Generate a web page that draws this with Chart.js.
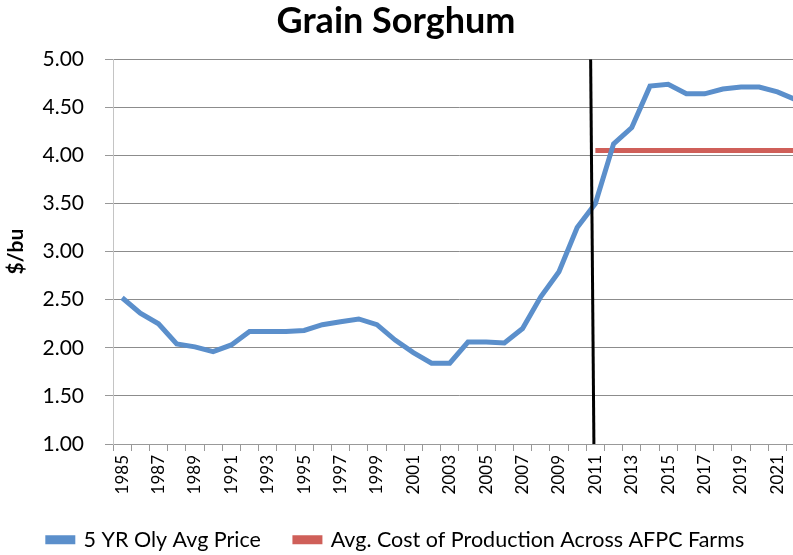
<!DOCTYPE html>
<html><head><meta charset="utf-8">
<script src="https://cdn.jsdelivr.net/npm/chart.js@4"></script>
<style>html,body{margin:0;padding:0;overflow:hidden;background:#fff;width:793px;height:555px}#wrap{width:848px;height:555px;position:absolute;left:-28px;top:0}</style>
</head><body><div id="wrap"><canvas id="c"></canvas></div>
<script>
const years = ['1985','1986','1987','1988','1989','1990','1991','1992','1993','1994','1995','1996','1997','1998','1999','2000','2001','2002','2003','2004','2005','2006','2007','2008','2009','2010','2011','2012','2013','2014','2015','2016','2017','2018','2019','2020','2021','2022'];
const priceValues = [2.52,2.36,2.25,2.04,2.01,1.96,2.03,2.17,2.17,2.17,2.18,2.24,2.27,2.30,2.24,2.08,1.95,1.84,1.84,2.06,2.06,2.05,2.20,2.53,2.79,3.25,3.50,4.12,4.29,4.72,4.74,4.64,4.64,4.69,4.71,4.71,4.66,4.58];
const costValues = [null,null,null,null,null,null,null,null,null,null,null,null,null,null,null,null,null,null,null,null,null,null,null,null,null,null,4.05,4.05,4.05,4.05,4.05,4.05,4.05,4.05,4.05,4.05,4.05,4.05];
// vertical marker line (category index positions, $/bu values)
const markerX = [25.74, 25.92];
const markerY = [5.0, 1.0];
const seriesNames = ['5 YR Oly Avg Price', 'Avg. Cost of Production Across AFPC Farms'];

const FONT = 'Lato, "Liberation Sans", sans-serif';
new Chart(document.getElementById('c'), {
  type: 'line',
  data: {
    labels: years,
    datasets: [
      { label: seriesNames[0], data: priceValues, borderColor: '#5b8fcb', backgroundColor: '#5b8fcb', borderWidth: 5, pointRadius: 0, tension: 0, order: 2 },
      { label: seriesNames[1], data: costValues, borderColor: '#cf5f59', backgroundColor: '#cf5f59', borderWidth: 5, pointRadius: 0, tension: 0, order: 3 },
      { label: 'marker', data: markerX.map((x, i) => ({ x: x, y: markerY[i] })), xAxisID: 'x2', borderColor: '#000', backgroundColor: '#000', borderWidth: 3, pointRadius: 0, order: 1 }
    ]
  },
  options: {
    responsive: true, maintainAspectRatio: false, animation: false,
    layout: { padding: { left: 0, right: 0, top: 0, bottom: 0 } },
    plugins: {
      title: { display: true, text: 'Grain Sorghum', color: '#000', font: { family: FONT, size: 36, weight: 'bold' }, padding: { top: 0, bottom: 16 }, align: 'center' },
      legend: { position: 'bottom', maxHeight: 60, labels: { filter: it => it.text !== 'marker', color: '#000', font: { family: FONT, size: 21.5 }, boxWidth: 25, boxHeight: 4, padding: 34 } },
      tooltip: { enabled: false }
    },
    scales: {
      x: {
        type: 'category', offset: true,
        grid: { display: true, drawOnChartArea: false, drawTicks: true, tickLength: 7, offset: true, color: '#999' },
        border: { color: '#999' },
        ticks: { autoSkip: false, maxRotation: 90, minRotation: 90, color: '#000', font: { family: FONT, size: 17 }, padding: 4,
          callback: function (v, i) { return i % 2 === 0 ? this.getLabelForValue(v) : ''; } },
        afterFit: s => { s.height = 51; }
      },
      x2: { type: 'linear', display: false, min: -0.5, max: 37.5 },
      y: {
        min: 1, max: 5,
        ticks: { stepSize: 0.5, color: '#000', font: { family: FONT, size: 21 }, padding: 21, callback: v => v.toFixed(2) },
        grid: { color: '#8c8c8c', tickLength: 8, tickColor: '#999' },
        border: { color: '#c4c4c4' },
        title: { display: true, text: '$/bu', color: '#000', font: { family: FONT, size: 21, weight: 'bold' }, padding: { top: 32, bottom: 0 } },
        afterFit: s => { s.width = 141; }
      }
    }
  }
});
</script></body></html>
